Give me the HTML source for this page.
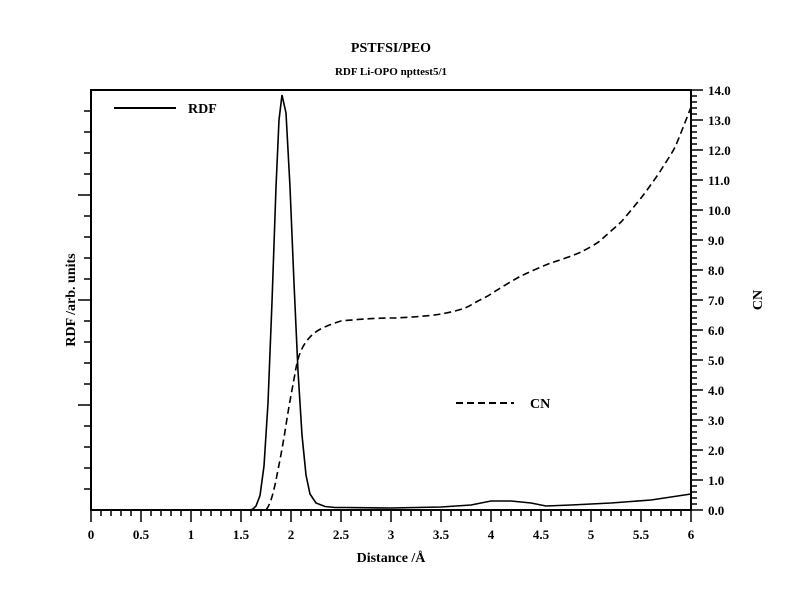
<!DOCTYPE html>
<html><head><style>body{margin:0;background:#fff}svg{display:block}text{font-family:"Liberation Serif",serif;font-weight:bold;fill:#000}</style></head>
<body>
<svg width="800" height="600" viewBox="0 0 800 600">
<rect width="800" height="600" fill="#fff"/>
<text x="391" y="52" font-size="14" text-anchor="middle">PSTFSI/PEO</text>
<text x="391" y="75" font-size="11" text-anchor="middle">RDF Li-OPO npttest5/1</text>
<g stroke="#000" fill="none" stroke-width="1.5">
<rect x="91" y="90" width="600" height="420" stroke-width="2"/>
<path d="
M78,405H91 M78,300H91 M78,195H91
M84,489H91 M84,468H91 M84,447H91 M84,426H91
M84,384H91 M84,363H91 M84,342H91 M84,321H91
M84,279H91 M84,258H91 M84,237H91 M84,216H91
M84,174H91 M84,153H91 M84,132H91 M84,111H91"/>
<path d="M91,510V522 M141,510V522 M191,510V522 M241,510V522 M291,510V522 M341,510V522 M391,510V522 M441,510V522 M491,510V522 M541,510V522 M591,510V522 M641,510V522 M691,510V522
M101,510v6 M111,510v6 M121,510v6 M131,510v6 M151,510v6 M161,510v6 M171,510v6 M181,510v6 M201,510v6 M211,510v6 M221,510v6 M231,510v6 M251,510v6 M261,510v6 M271,510v6 M281,510v6 M301,510v6 M311,510v6 M321,510v6 M331,510v6 M351,510v6 M361,510v6 M371,510v6 M381,510v6 M401,510v6 M411,510v6 M421,510v6 M431,510v6 M451,510v6 M461,510v6 M471,510v6 M481,510v6 M501,510v6 M511,510v6 M521,510v6 M531,510v6 M551,510v6 M561,510v6 M571,510v6 M581,510v6 M601,510v6 M611,510v6 M621,510v6 M631,510v6 M651,510v6 M661,510v6 M671,510v6 M681,510v6"/>
<path d="M691,510H703 M691,480H703 M691,450H703 M691,420H703 M691,390H703 M691,360H703 M691,330H703 M691,300H703 M691,270H703 M691,240H703 M691,210H703 M691,180H703 M691,150H703 M691,120H703 M691,90H703
M691,504h6 M691,498h6 M691,492h6 M691,486h6 M691,474h6 M691,468h6 M691,462h6 M691,456h6 M691,444h6 M691,438h6 M691,432h6 M691,426h6 M691,414h6 M691,408h6 M691,402h6 M691,396h6 M691,384h6 M691,378h6 M691,372h6 M691,366h6 M691,354h6 M691,348h6 M691,342h6 M691,336h6 M691,324h6 M691,318h6 M691,312h6 M691,306h6 M691,294h6 M691,288h6 M691,282h6 M691,276h6 M691,264h6 M691,258h6 M691,252h6 M691,246h6 M691,234h6 M691,228h6 M691,222h6 M691,216h6 M691,204h6 M691,198h6 M691,192h6 M691,186h6 M691,174h6 M691,168h6 M691,162h6 M691,156h6 M691,144h6 M691,138h6 M691,132h6 M691,126h6 M691,114h6 M691,108h6 M691,102h6 M691,96h6"/>
</g>
<g font-size="13" text-anchor="middle">
<text x="91" y="539">0</text><text x="141" y="539">0.5</text><text x="191" y="539">1</text><text x="241" y="539">1.5</text><text x="291" y="539">2</text><text x="341" y="539">2.5</text><text x="391" y="539">3</text><text x="441" y="539">3.5</text><text x="491" y="539">4</text><text x="541" y="539">4.5</text><text x="591" y="539">5</text><text x="641" y="539">5.5</text><text x="691" y="539">6</text>
</g>
<g font-size="13">
<text x="708" y="515">0.0</text><text x="708" y="485">1.0</text><text x="708" y="455">2.0</text><text x="708" y="425">3.0</text><text x="708" y="395">4.0</text><text x="708" y="365">5.0</text><text x="708" y="335">6.0</text><text x="708" y="305">7.0</text><text x="708" y="275">8.0</text><text x="708" y="245">9.0</text><text x="708" y="215">10.0</text><text x="708" y="185">11.0</text><text x="708" y="155">12.0</text><text x="708" y="125">13.0</text><text x="708" y="95">14.0</text>
</g>
<path fill="none" stroke="#000" stroke-width="1.6" d="M91,510 L250,510 L253,509 L256,506 L260,495.5 L264,466 L268,403 L272,302 L276,187 L279,120 L282,95 L286,113 L290,187 L294,283 L298,371 L302,435 L306,475 L310,494 L316,503 L325,506.5 L335,507.5 L345,507.5 L391,508 L441,507 L471,505 L491,501 L511,501 L531,503 L546,506 L571,505 L611,503 L651,500 L671,497 L691,494"/>
<path fill="none" stroke="#000" stroke-width="1.6" stroke-dasharray="7,4" d="M266,510 C270,505 273,495 276,480 S283,445 286,425 S293,385 296,368 S305,342 311,336 S325,326 341,321 C360,319 380,318 391,318 S430,316 441,314 S465,309 471,305 S485,298 491,294 S515,279 521,276 S545,265 551,263 S575,255 581,252 S598,243 601,240 S618,225 621,222 S637,203 641,198 S658,175 661,170 S673,152 676,145 S688,115 691,107"/>
<line x1="114" y1="108" x2="176" y2="108" stroke="#000" stroke-width="2"/>
<text x="188" y="113" font-size="14">RDF</text>
<line x1="456" y1="403" x2="514" y2="403" stroke="#000" stroke-width="2" stroke-dasharray="7,4"/>
<text x="530" y="408" font-size="14">CN</text>
<text x="391" y="562" font-size="14" text-anchor="middle">Distance /Å</text>
<text transform="translate(75,300) rotate(-90)" font-size="14" text-anchor="middle">RDF /arb. units</text>
<text transform="translate(762,300) rotate(-90)" font-size="14" text-anchor="middle">CN</text>
</svg>
</body></html>
